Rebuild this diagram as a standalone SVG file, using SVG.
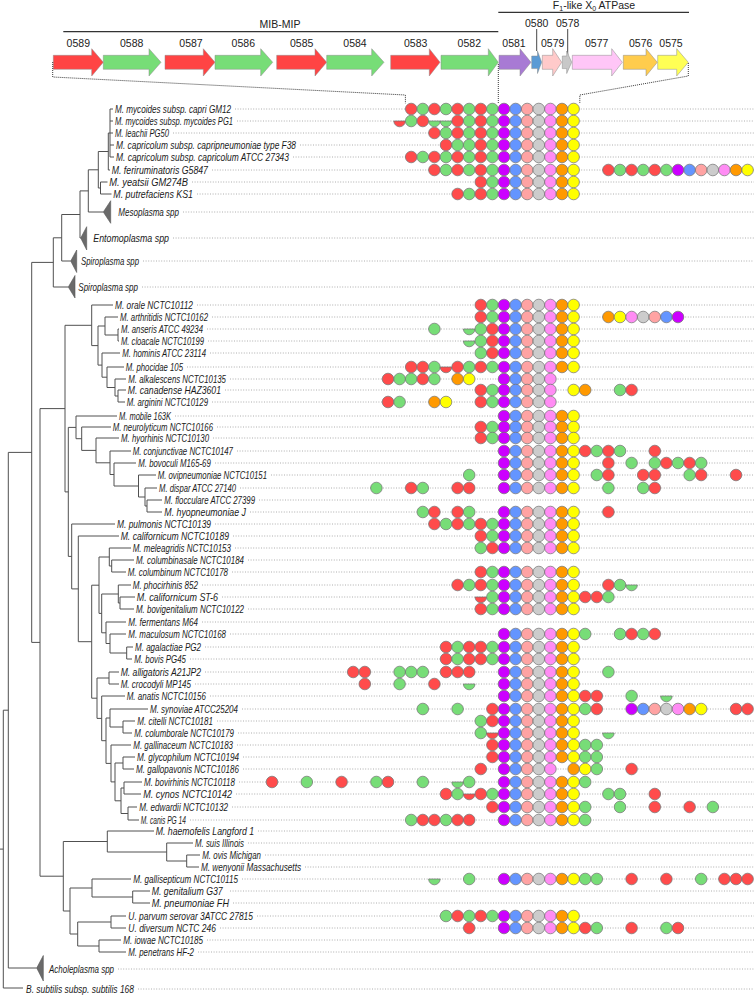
<svg xmlns="http://www.w3.org/2000/svg" xmlns:xlink="http://www.w3.org/1999/xlink" width="754" height="996" viewBox="0 0 754 996">
<style>
.lab{font-family:"Liberation Sans",Arial,sans-serif;font-style:italic;font-size:10.5px;fill:#1a1a1a}
.gl{font-family:"Liberation Sans",Arial,sans-serif;font-size:10.5px;fill:#222;text-anchor:middle}
.dot{stroke:#9a9a9a;stroke-width:0.8;stroke-dasharray:1 1.6;fill:none}
.zd{stroke:#222;stroke-width:0.9;stroke-dasharray:1 1;fill:none}
.tree{stroke:#505050;stroke-width:1;fill:none}
.tri{fill:#6a6a6a;stroke:#555;stroke-width:0.6}
.ar{stroke:#8a8a8a;stroke-width:0.5}
.bar{stroke:#333;stroke-width:1.3;fill:none}
</style>
<defs>
<circle id="cr" r="5.8" fill="#ff4b4b" stroke="#707070" stroke-width="0.7"/>
<circle id="cg" r="5.8" fill="#77dd77" stroke="#707070" stroke-width="0.7"/>
<circle id="cp" r="5.8" fill="#cc00ff" stroke="#707070" stroke-width="0.7"/>
<circle id="cb" r="5.8" fill="#6495ff" stroke="#707070" stroke-width="0.7"/>
<circle id="cs" r="5.8" fill="#ffa3a3" stroke="#707070" stroke-width="0.7"/>
<circle id="ca" r="5.8" fill="#cccccc" stroke="#707070" stroke-width="0.7"/>
<circle id="cv" r="5.8" fill="#ff8cf4" stroke="#707070" stroke-width="0.7"/>
<circle id="co" r="5.8" fill="#ff9900" stroke="#707070" stroke-width="0.7"/>
<circle id="cy" r="5.8" fill="#ffff00" stroke="#707070" stroke-width="0.7"/>
<path id="hr" d="M-5.8 0A5.8 5.8 0 0 0 5.8 0Z" fill="#ff4b4b" stroke="#707070" stroke-width="0.7"/>
<path id="hg" d="M-5.8 0A5.8 5.8 0 0 0 5.8 0Z" fill="#77dd77" stroke="#707070" stroke-width="0.7"/>
<g id="core5"><use href="#cp" x="504"/><use href="#cb" x="515.6"/><use href="#cs" x="527.2"/><use href="#ca" x="538.8"/><use href="#cv" x="550.4"/></g>
<g id="core"><use href="#core5"/><use href="#co" x="562"/><use href="#cy" x="573.6"/></g>
</defs>
<rect width="754" height="996" fill="#fff"/>

<g id="gene-map">
<text class="gl" x="594" y="9">F<tspan font-size="7" dy="2">1</tspan><tspan dy="-2">-like X</tspan><tspan font-size="7" dy="2">0</tspan><tspan dy="-2"> ATPase</tspan></text>
<path class="bar" d="M498.3 12.3H689"/>
<text class="gl" x="280" y="28">MIB-MIP</text>
<path class="bar" d="M63.3 31.7H498.3"/>
<text class="gl" x="536.7" y="26.5">0580</text>
<text class="gl" x="567.7" y="26.5">0578</text>
<path d="M536.7 29V51M567.7 29V55" stroke="#333" stroke-width="0.9"/>
<text class="gl" x="78.3" y="47">0589</text>
<text class="gl" x="131.7" y="47">0588</text>
<text class="gl" x="191" y="47">0587</text>
<text class="gl" x="243.3" y="47">0586</text>
<text class="gl" x="301.7" y="47">0585</text>
<text class="gl" x="355" y="47">0584</text>
<text class="gl" x="415.7" y="47">0583</text>
<text class="gl" x="469.3" y="47">0582</text>
<text class="gl" x="514" y="47">0581</text>
<text class="gl" x="552.7" y="47">0579</text>
<text class="gl" x="596.7" y="47">0577</text>
<text class="gl" x="640.7" y="47">0576</text>
<text class="gl" x="671" y="47">0575</text>
<polygon class="ar" fill="#ff4444" points="53.3,55.3 91.7,55.3 91.7,48.7 103.3,62.3 91.7,76 91.7,69.3 53.3,69.3"/>
<polygon class="ar" fill="#77dd77" points="103.3,55.3 149,55.3 149,48.7 161,62.3 149,76 149,69.3 103.3,69.3"/>
<polygon class="ar" fill="#ff4444" points="165,55.3 203.3,55.3 203.3,48.7 215,62.3 203.3,76 203.3,69.3 165,69.3"/>
<polygon class="ar" fill="#77dd77" points="215,55.3 260.7,55.3 260.7,48.7 272.7,62.3 260.7,76 260.7,69.3 215,69.3"/>
<polygon class="ar" fill="#ff4444" points="276.7,55.3 315,55.3 315,48.7 326.7,62.3 315,76 315,69.3 276.7,69.3"/>
<polygon class="ar" fill="#77dd77" points="326.7,55.3 371.7,55.3 371.7,48.7 384,62.3 371.7,76 371.7,69.3 326.7,69.3"/>
<polygon class="ar" fill="#ff4444" points="390.7,55.3 429.3,55.3 429.3,48.7 440,62.3 429.3,76 429.3,69.3 390.7,69.3"/>
<polygon class="ar" fill="#77dd77" points="441,55.3 488.3,55.3 488.3,48.7 498.3,62.3 488.3,76 488.3,69.3 441,69.3"/>
<polygon class="ar" fill="#a87ad4" points="499,55.3 520,55.3 520,48.7 531,62.3 520,76 520,69.3 499,69.3"/>
<polygon class="ar" fill="#5b9bd5" points="531.7,56 537.5,56 537.5,51 541.7,62.3 537.5,73.5 537.5,68.6 531.7,68.6"/>
<polygon class="ar" fill="#ffcaca" points="542.3,55.3 552.7,55.3 552.7,48.7 561.7,62.3 552.7,76 552.7,69.3 542.3,69.3"/>
<polygon class="ar" fill="#c8c8c8" points="562.3,56 566.7,56 566.7,51 571.7,62.3 566.7,73.5 566.7,68.6 562.3,68.6"/>
<polygon class="ar" fill="#ffc6f7" points="572.3,55.3 611.7,55.3 611.7,48.7 622.3,62.3 611.7,76 611.7,69.3 572.3,69.3"/>
<polygon class="ar" fill="#ffcc4d" points="623.3,55.3 646,55.3 646,48.7 657.3,62.3 646,76 646,69.3 623.3,69.3"/>
<polygon class="ar" fill="#ffff55" points="657.7,55.3 676.7,55.3 676.7,48.7 688.3,62.3 676.7,76 676.7,69.3 657.7,69.3"/>
<path class="zd" d="M52.7 62V77L405.4 95V103.3M498.3 64V103.3M688.3 63V76L579.8 95V103.3"/>
</g>

<g id="row-lines">
<path class="dot" d="M235 109H754M237 121H754M173 133H754M300 145H754M293 157H754M212 170H754M192 182H754M197 194H754M183 212H754M173 238H754M143 261H754M142 287H754M197 305H754M212 317H754M207 329H754M208 341H754M210 353H754M187 367H754M230 379H754M225 390H754M212 402H754M175 416H754M217 427H754M213 438H754M237 451H754M215 463H754M271 475H754M240 488H754M259 500H754M250 512H754M215 524H754M233 536H754M235 548H754M248 560H754M232 572H754M202 585H754M222 597H754M248 609H754M202 622H754M230 634H754M205 647H754M190 659H754M205 672H754M195 684H754M210 696H754M242 709H754M217 721H754M238 733H754M237 745H754M243 757H754M243 769H754M239 782H754M236 794H754M232 807H754M190 820H754M258 831H754M248 843H754M265 855H754M305 867H754M242 879H754M230 891H754M233 903H754M257 916H754M220 928H754M207 940H754M198 952H754M118 969H754M138 989H754"/>
</g>

<g id="connectors">
<path class="tree" d="M110 109V157M108.3 133V170M100.5 182V194M98.3 151.5V188M88.3 169.8V212M80 190.9V238M61.7 214.5V261M53.3 237.8V287M108.3 133H110M98.3 151.5H108.3M98.3 188H100.5M88.3 169.8H98.3M80 190.9H88.3M61.7 214.5H80M53.3 237.8H61.7M31.7 262.4H53.3M110 109H113M110 121H113M110 133H113M110 145H114M110 157H114M108.3 170H110M100.5 182H107.5M100.5 194H111.5M88.3 212H103.3M80 238H80.7M61.7 261H70.7M53.3 287H68.3
M118 329V341M105 317V335M118 390V402M115 379V396M107 367V387.5M102 353V377.2M98 326V365.1M91.7 305V345.6M105 335H118M98 326H105M115 396H118M107 387.5H115M102 377.2H107M98 365.1H102M91.7 345.6H98M65 325.3H91.7M91.7 305H113M105 317H118M118 329H119M118 341H119M102 353H120M107 367H124M115 379H126M118 390H126M118 402H125
M147 500V512M145 488V506M138.5 475V497M114 463V486M110 451V474.5M96 438V462.8M81.7 427V450.4M76 416V438.7M145 506H147M138.5 497H145M114 486H138.5M110 474.5H114M96 462.8H110M81.7 450.4H96M76 438.7H81.7M68.3 427.4H76M76 416H117M81.7 427H111M96 438H119M110 451H131M114 463H136M138.5 475H156M145 488H157M147 500H162M147 512H162
M111.7 560V572M109.3 548V566M120 597V609M118.3 585V603M126.7 647V659M110 634V653M106 622V643.5M101.7 594V632.8M99 557V613.4M109 672V684M123 721V733M110 709V727M123 757V769M124 782V794M128 807V820M121 788V813.5M115 763V800.8M111 745V781.9M106 718V763.4M101.7 696V740.7M97 678V718.4M91.7 585.2V698.2M78.3 536V641.7M71.7 524V588.9M68.3 427.4V556.4M65 325.3V491.9
M109.3 566H111.7M99 557H109.3M118.3 603H120M101.7 594H118.3M110 653H126.7M106 643.5H110M101.7 632.8H106M99 613.4H101.7M91.7 585.2H99M97 678H109M110 727H123M106 718H110M115 763H123M121 788H124M121 813.5H128M115 800.8H121M111 781.9H115M106 763.4H111M101.7 740.7H106M97 718.4H101.7M91.7 698.2H97M78.3 641.7H91.7M71.7 588.9H78.3M68.3 556.4H71.7M65 491.9H68.3M40 408.6H65
M71.7 524H115M78.3 536H119M109.3 548H131M111.7 560H134M111.7 572H126M118.3 585H131M120 597H135M120 609H134M106 622H126M110 634H126M126.7 647H133M126.7 659H132M109 672H119M109 684H119M101.7 696H125M110 709H148M123 721H135M123 733H132M111 745H131M123 757H135M123 769H134M124 782H142M124 794H141M128 807H137M128 820H139
M186.7 855V867M166.7 843V861M107.3 831V852M132.7 891V903M92 879V897M111 916V928M99 940V952M77.7 922V946M70 888V934M63.3 841.5V911M40 408.6V876.2M31.7 262.4V642.4M8.3 452.4V968M3.3 710.2V988
M166.7 861H186.7M107.3 852H166.7M63.3 841.5H107.3M92 897H132.7M70 888H92M77.7 922H111M77.7 946H99M70 934H77.7M63.3 911H70M40 876.2H63.3M31.7 642.4H40M8.3 452.4H31.7M3.3 710.2H8.3M0 849.1H3.3
M107.3 831H154M166.7 843H193M186.7 855H200M186.7 867H199M92 879H131M132.7 891H150M132.7 903H150M111 916H126M111 928H126M99 940H121M99 952H126M8.3 968H36.7M3.3 988H23"/>
</g>

<g id="t01"><text class="lab" x="115" y="112.6" textLength="116" lengthAdjust="spacingAndGlyphs">M. mycoides subsp. capri GM12</text><use href="#cr" x="411.2" y="109"/><use href="#cg" x="422.8" y="109"/><use href="#cr" x="434.4" y="109"/><use href="#cg" x="446" y="109"/><use href="#cr" x="457.6" y="109"/><use href="#cg" x="469.2" y="109"/><use href="#cr" x="480.8" y="109"/><use href="#cg" x="492.4" y="109"/><use href="#core" y="109"/></g>
<g id="t02"><text class="lab" x="115" y="124.6" textLength="118" lengthAdjust="spacingAndGlyphs">M. mycoides subsp. mycoides PG1</text><use href="#hr" x="399.6" y="121"/><use href="#cg" x="411.2" y="121"/><use href="#cr" x="422.8" y="121"/><use href="#hg" x="434.4" y="121"/><use href="#hg" x="446" y="121"/><use href="#cr" x="457.6" y="121"/><use href="#cg" x="469.2" y="121"/><use href="#cr" x="480.8" y="121"/><use href="#cg" x="492.4" y="121"/><use href="#core" y="121"/></g>
<g id="t03"><text class="lab" x="115" y="136.6" textLength="54" lengthAdjust="spacingAndGlyphs">M. leachii PG50</text><use href="#cr" x="434.4" y="133"/><use href="#cg" x="446" y="133"/><use href="#cr" x="457.6" y="133"/><use href="#cg" x="469.2" y="133"/><use href="#cr" x="480.8" y="133"/><use href="#cg" x="492.4" y="133"/><use href="#core" y="133"/></g>
<g id="t04"><text class="lab" x="116" y="148.6" textLength="180" lengthAdjust="spacingAndGlyphs">M. capricolum subsp. capripneumoniae type F38</text><use href="#cr" x="446" y="145"/><use href="#cg" x="457.6" y="145"/><use href="#cg" x="469.2" y="145"/><use href="#cr" x="480.8" y="145"/><use href="#cg" x="492.4" y="145"/><use href="#core" y="145"/></g>
<g id="t05"><text class="lab" x="116" y="160.6" textLength="173" lengthAdjust="spacingAndGlyphs">M. capricolum subsp. capricolum ATCC 27343</text><use href="#cr" x="411.2" y="157"/><use href="#cg" x="422.8" y="157"/><use href="#cr" x="434.4" y="157"/><use href="#cg" x="446" y="157"/><use href="#cr" x="457.6" y="157"/><use href="#cg" x="469.2" y="157"/><use href="#cr" x="480.8" y="157"/><use href="#cg" x="492.4" y="157"/><use href="#core" y="157"/></g>
<g id="t06"><text class="lab" x="111.7" y="173.6" textLength="96.3" lengthAdjust="spacingAndGlyphs">M. feriruminatoris G5847</text><use href="#cr" x="434.4" y="170"/><use href="#cg" x="446" y="170"/><use href="#cr" x="457.6" y="170"/><use href="#cg" x="469.2" y="170"/><use href="#cr" x="480.8" y="170"/><use href="#cg" x="492.4" y="170"/><use href="#core" y="170"/><use href="#cr" x="608.4" y="170"/><use href="#cg" x="620" y="170"/><use href="#cr" x="631.6" y="170"/><use href="#cg" x="643.2" y="170"/><use href="#cr" x="654.8" y="170"/><use href="#cg" x="666.4" y="170"/><use href="#core" x="174" y="170"/></g>
<g id="t07"><text class="lab" x="109.3" y="185.6" textLength="78.7" lengthAdjust="spacingAndGlyphs">M. yeatsii GM274B</text><use href="#cr" x="480.8" y="182"/><use href="#cg" x="492.4" y="182"/><use href="#core" y="182"/></g>
<g id="t08"><text class="lab" x="113.3" y="197.6" textLength="79.7" lengthAdjust="spacingAndGlyphs">M. putrefaciens KS1</text><use href="#cr" x="457.6" y="194"/><use href="#cg" x="469.2" y="194"/><use href="#cr" x="480.8" y="194"/><use href="#cg" x="492.4" y="194"/><use href="#core" y="194"/></g>
<g id="t09"><polygon class="tri" points="103.3,212 110.7,200.7 110.7,223.3"/><text class="lab" x="118.3" y="215.6" textLength="60.7" lengthAdjust="spacingAndGlyphs">Mesoplasma spp</text></g>
<g id="t10"><polygon class="tri" points="80.7,238 86.7,226.7 86.7,250"/><text class="lab" x="93.3" y="241.6" textLength="75.7" lengthAdjust="spacingAndGlyphs">Entomoplasma spp</text></g>
<g id="t11"><polygon class="tri" points="70.7,261 76.7,250 76.7,272.5"/><text class="lab" x="81" y="264.6" textLength="58" lengthAdjust="spacingAndGlyphs">Spiroplasma spp</text></g>
<g id="t12"><polygon class="tri" points="68.3,287 75,275.5 75,298"/><text class="lab" x="78.3" y="290.6" textLength="59.7" lengthAdjust="spacingAndGlyphs">Spiroplasma spp</text></g>
<g id="t13"><text class="lab" x="115" y="308.6" textLength="78" lengthAdjust="spacingAndGlyphs">M. orale NCTC10112</text><use href="#cr" x="480.8" y="305"/><use href="#cg" x="492.4" y="305"/><use href="#core" y="305"/></g>
<g id="t14"><text class="lab" x="120" y="320.6" textLength="88" lengthAdjust="spacingAndGlyphs">M. arthritidis NCTC10162</text><use href="#cr" x="480.8" y="317"/><use href="#cg" x="492.4" y="317"/><use href="#core" y="317"/><use href="#co" x="608.4" y="317"/><use href="#cy" x="620" y="317"/><use href="#cv" x="631.6" y="317"/><use href="#ca" x="643.2" y="317"/><use href="#cs" x="654.8" y="317"/><use href="#cb" x="666.4" y="317"/><use href="#cp" x="678" y="317"/></g>
<g id="t15"><text class="lab" x="121" y="332.6" textLength="82" lengthAdjust="spacingAndGlyphs">M. anseris ATCC 49234</text><use href="#cg" x="434.4" y="329"/><use href="#hg" x="469.2" y="329"/><use href="#cg" x="480.8" y="329"/><use href="#cr" x="492.4" y="329"/><use href="#core" y="329"/></g>
<g id="t16"><text class="lab" x="121" y="344.6" textLength="83" lengthAdjust="spacingAndGlyphs">M. cloacale NCTC10199</text><use href="#hg" x="469.2" y="341"/><use href="#cg" x="480.8" y="341"/><use href="#cr" x="492.4" y="341"/><use href="#core" y="341"/></g>
<g id="t17"><text class="lab" x="122.3" y="356.6" textLength="83.7" lengthAdjust="spacingAndGlyphs">M. hominis ATCC 23114</text><use href="#cg" x="480.8" y="353"/><use href="#cr" x="492.4" y="353"/><use href="#core" y="353"/></g>
<g id="t18"><text class="lab" x="125.7" y="370.6" textLength="57.3" lengthAdjust="spacingAndGlyphs">M. phocidae 105</text><use href="#cr" x="411.2" y="367"/><use href="#cr" x="422.8" y="367"/><use href="#cg" x="434.4" y="367"/><use href="#hr" x="446" y="367"/><use href="#cr" x="457.6" y="367"/><use href="#cg" x="469.2" y="367"/><use href="#cr" x="480.8" y="367"/><use href="#cg" x="492.4" y="367"/><use href="#core" y="367"/></g>
<g id="t19"><text class="lab" x="128.3" y="382.6" textLength="97.7" lengthAdjust="spacingAndGlyphs">M. alkalescens NCTC10135</text><use href="#cr" x="388" y="379"/><use href="#cg" x="399.6" y="379"/><use href="#cg" x="411.2" y="379"/><use href="#cr" x="422.8" y="379"/><use href="#cg" x="434.4" y="379"/><use href="#co" x="457.6" y="379"/><use href="#cy" x="469.2" y="379"/><use href="#core5" y="379"/></g>
<g id="t20"><text class="lab" x="127.7" y="393.6" textLength="93.3" lengthAdjust="spacingAndGlyphs">M. canadense HAZ3601</text><use href="#cr" x="480.8" y="390"/><use href="#cg" x="492.4" y="390"/><use href="#core5" y="390"/><use href="#cy" x="573.6" y="390"/><use href="#co" x="585.2" y="390"/><use href="#cg" x="620" y="390"/><use href="#cr" x="631.6" y="390"/></g>
<g id="t21"><text class="lab" x="126.7" y="405.6" textLength="81.3" lengthAdjust="spacingAndGlyphs">M. arginini NCTC10129</text><use href="#cr" x="388" y="402"/><use href="#cg" x="399.6" y="402"/><use href="#co" x="434.4" y="402"/><use href="#cy" x="446" y="402"/><use href="#cr" x="480.8" y="402"/><use href="#cg" x="492.4" y="402"/><use href="#core5" y="402"/></g>
<g id="t22"><text class="lab" x="119" y="419.6" textLength="52" lengthAdjust="spacingAndGlyphs">M. mobile 163K</text><use href="#core" y="416"/></g>
<g id="t23"><text class="lab" x="112.7" y="430.6" textLength="100.3" lengthAdjust="spacingAndGlyphs">M. neurolyticum NCTC10166</text><use href="#cr" x="480.8" y="427"/><use href="#cg" x="492.4" y="427"/><use href="#core" y="427"/></g>
<g id="t24"><text class="lab" x="121" y="441.6" textLength="88" lengthAdjust="spacingAndGlyphs">M. hyorhinis NCTC10130</text><use href="#cr" x="480.8" y="438"/><use href="#cg" x="492.4" y="438"/><use href="#core" y="438"/></g>
<g id="t25"><text class="lab" x="132.7" y="454.6" textLength="100.3" lengthAdjust="spacingAndGlyphs">M. conjunctivae NCTC10147</text><use href="#core" y="451"/><use href="#cr" x="585.2" y="451"/><use href="#cg" x="596.8" y="451"/><use href="#cr" x="608.4" y="451"/><use href="#cg" x="620" y="451"/><use href="#cr" x="654.8" y="451"/></g>
<g id="t26"><text class="lab" x="138.3" y="466.6" textLength="72.5" lengthAdjust="spacingAndGlyphs">M. bovoculi M165-69</text><use href="#core" y="463"/><use href="#cr" x="608.4" y="463"/><use href="#cg" x="631.6" y="463"/><use href="#cg" x="654.8" y="463"/><use href="#cr" x="666.4" y="463"/><use href="#cg" x="678" y="463"/><use href="#cr" x="689.6" y="463"/><use href="#cg" x="701.2" y="463"/></g>
<g id="t27"><text class="lab" x="157.7" y="478.6" textLength="109.3" lengthAdjust="spacingAndGlyphs">M. ovipneumoniae NCTC10151</text><use href="#cg" x="469.2" y="475"/><use href="#core" y="475"/><use href="#cg" x="596.8" y="475"/><use href="#cr" x="608.4" y="475"/><use href="#cr" x="643.2" y="475"/><use href="#cr" x="654.8" y="475"/><use href="#cg" x="689.6" y="475"/><use href="#cr" x="701.2" y="475"/><use href="#cr" x="736" y="475"/></g>
<g id="t28"><text class="lab" x="159" y="491.6" textLength="77" lengthAdjust="spacingAndGlyphs">M. dispar ATCC 27140</text><use href="#cg" x="376.4" y="488"/><use href="#cr" x="411.2" y="488"/><use href="#cg" x="422.8" y="488"/><use href="#cr" x="457.6" y="488"/><use href="#cr" x="469.2" y="488"/><use href="#core" y="488"/><use href="#cg" x="608.4" y="488"/><use href="#cg" x="643.2" y="488"/><use href="#cr" x="654.8" y="488"/></g>
<g id="t29"><text class="lab" x="164.3" y="503.6" textLength="90.7" lengthAdjust="spacingAndGlyphs">M. flocculare ATCC 27399</text></g>
<g id="t30"><text class="lab" x="164.3" y="515.6" textLength="81.7" lengthAdjust="spacingAndGlyphs">M. hyopneumoniae J</text><use href="#cg" x="422.8" y="512"/><use href="#cr" x="434.4" y="512"/><use href="#cr" x="457.6" y="512"/><use href="#cg" x="469.2" y="512"/><use href="#core" y="512"/><use href="#cr" x="608.4" y="512"/></g>
<g id="t31"><text class="lab" x="117" y="527.6" textLength="94" lengthAdjust="spacingAndGlyphs">M. pulmonis NCTC10139</text><use href="#cr" x="434.4" y="524"/><use href="#cg" x="446" y="524"/><use href="#cr" x="457.6" y="524"/><use href="#cg" x="469.2" y="524"/><use href="#cr" x="480.8" y="524"/><use href="#cg" x="492.4" y="524"/><use href="#core" y="524"/></g>
<g id="t32"><text class="lab" x="120.7" y="539.6" textLength="108.3" lengthAdjust="spacingAndGlyphs">M. californicum NCTC10189</text><use href="#cr" x="480.8" y="536"/><use href="#cg" x="492.4" y="536"/><use href="#core" y="536"/></g>
<g id="t33"><text class="lab" x="132.7" y="551.6" textLength="98.3" lengthAdjust="spacingAndGlyphs">M. meleagridis NCTC10153</text><use href="#cg" x="480.8" y="548"/><use href="#cr" x="492.4" y="548"/><use href="#core" y="548"/></g>
<g id="t34"><text class="lab" x="136" y="563.6" textLength="108" lengthAdjust="spacingAndGlyphs">M. columbinasale NCTC10184</text></g>
<g id="t35"><text class="lab" x="127.7" y="575.6" textLength="100.3" lengthAdjust="spacingAndGlyphs">M. columbinum NCTC10178</text><use href="#cr" x="480.8" y="572"/><use href="#cg" x="492.4" y="572"/><use href="#core" y="572"/></g>
<g id="t36"><text class="lab" x="132.7" y="588.6" textLength="65.3" lengthAdjust="spacingAndGlyphs">M. phocirhinis 852</text><use href="#cr" x="457.6" y="585"/><use href="#cg" x="469.2" y="585"/><use href="#cr" x="480.8" y="585"/><use href="#cg" x="492.4" y="585"/><use href="#core" y="585"/><use href="#cr" x="608.4" y="585"/><use href="#cg" x="620" y="585"/><use href="#hg" x="631.6" y="585"/></g>
<g id="t37"><text class="lab" x="136.7" y="600.6" textLength="81.3" lengthAdjust="spacingAndGlyphs">M. californicum ST-6</text><use href="#hr" x="480.8" y="597"/><use href="#cg" x="492.4" y="597"/><use href="#core" y="597"/><use href="#cr" x="585.2" y="597"/><use href="#cr" x="596.8" y="597"/><use href="#cg" x="608.4" y="597"/></g>
<g id="t38"><text class="lab" x="136" y="612.6" textLength="108" lengthAdjust="spacingAndGlyphs">M. bovigenitalium NCTC10122</text><use href="#cr" x="480.8" y="609"/><use href="#cg" x="492.4" y="609"/><use href="#core" y="609"/></g>
<g id="t39"><text class="lab" x="128.3" y="625.6" textLength="69.7" lengthAdjust="spacingAndGlyphs">M. fermentans M64</text></g>
<g id="t40"><text class="lab" x="128.3" y="637.6" textLength="97.7" lengthAdjust="spacingAndGlyphs">M. maculosum NCTC10168</text><use href="#core" y="634"/><use href="#cg" x="585.2" y="634"/><use href="#cg" x="620" y="634"/><use href="#cr" x="631.6" y="634"/><use href="#cg" x="643.2" y="634"/><use href="#cr" x="654.8" y="634"/></g>
<g id="t41"><text class="lab" x="135" y="650.6" textLength="66" lengthAdjust="spacingAndGlyphs">M. agalactiae PG2</text><use href="#cr" x="446" y="647"/><use href="#cg" x="457.6" y="647"/><use href="#cr" x="469.2" y="647"/><use href="#cr" x="480.8" y="647"/><use href="#cg" x="492.4" y="647"/><use href="#core" y="647"/></g>
<g id="t42"><text class="lab" x="134.3" y="662.6" textLength="51.7" lengthAdjust="spacingAndGlyphs">M. bovis PG45</text><use href="#cr" x="446" y="659"/><use href="#cg" x="457.6" y="659"/><use href="#cr" x="469.2" y="659"/><use href="#cr" x="480.8" y="659"/><use href="#cg" x="492.4" y="659"/><use href="#core" y="659"/></g>
<g id="t43"><text class="lab" x="120.7" y="675.6" textLength="80.3" lengthAdjust="spacingAndGlyphs">M. alligatoris A21JP2</text><use href="#cr" x="353.2" y="672"/><use href="#cr" x="364.8" y="672"/><use href="#cg" x="399.6" y="672"/><use href="#cg" x="411.2" y="672"/><use href="#cg" x="422.8" y="672"/><use href="#cr" x="446" y="672"/><use href="#cr" x="457.6" y="672"/><use href="#cr" x="469.2" y="672"/><use href="#core" y="672"/><use href="#cg" x="608.4" y="672"/></g>
<g id="t44"><text class="lab" x="120.7" y="687.6" textLength="70.3" lengthAdjust="spacingAndGlyphs">M. crocodyli MP145</text><use href="#cr" x="364.8" y="684"/><use href="#cg" x="399.6" y="684"/><use href="#cr" x="434.4" y="684"/><use href="#hg" x="469.2" y="684"/><use href="#core" y="684"/></g>
<g id="t45"><text class="lab" x="126.7" y="699.6" textLength="79.3" lengthAdjust="spacingAndGlyphs">M. anatis NCTC10156</text><use href="#core" y="696"/><use href="#cr" x="585.2" y="696"/><use href="#cr" x="596.8" y="696"/><use href="#cg" x="631.6" y="696"/><use href="#hg" x="666.4" y="696"/></g>
<g id="t46"><text class="lab" x="150" y="712.6" textLength="88" lengthAdjust="spacingAndGlyphs">M. synoviae ATCC25204</text><use href="#cg" x="422.8" y="709"/><use href="#cg" x="457.6" y="709"/><use href="#cr" x="492.4" y="709"/><use href="#core" y="709"/><use href="#cg" x="585.2" y="709"/><use href="#cr" x="596.8" y="709"/><use href="#core" x="127.6" y="709"/><use href="#cr" x="736" y="709"/><use href="#cr" x="747.6" y="709"/></g>
<g id="t47"><text class="lab" x="137.3" y="724.6" textLength="75.7" lengthAdjust="spacingAndGlyphs">M. citelli NCTC10181</text><use href="#cg" x="480.8" y="721"/><use href="#cr" x="492.4" y="721"/><use href="#core" y="721"/></g>
<g id="t48"><text class="lab" x="134.3" y="736.6" textLength="99.7" lengthAdjust="spacingAndGlyphs">M. columborale NCTC10179</text><use href="#cg" x="480.8" y="733"/><use href="#hr" x="492.4" y="733"/><use href="#core" y="733"/><use href="#hg" x="608.4" y="733"/></g>
<g id="t49"><text class="lab" x="133.3" y="748.6" textLength="99.7" lengthAdjust="spacingAndGlyphs">M. gallinaceum NCTC10183</text><use href="#cr" x="492.4" y="745"/><use href="#core" y="745"/><use href="#cg" x="585.2" y="745"/><use href="#cg" x="596.8" y="745"/></g>
<g id="t50"><text class="lab" x="137" y="760.6" textLength="102" lengthAdjust="spacingAndGlyphs">M. glycophilum NCTC10194</text><use href="#cr" x="492.4" y="757"/><use href="#core" y="757"/><use href="#cg" x="585.2" y="757"/><use href="#cg" x="596.8" y="757"/></g>
<g id="t51"><text class="lab" x="136" y="772.6" textLength="103" lengthAdjust="spacingAndGlyphs">M. gallopavonis NCTC10186</text><use href="#cr" x="480.8" y="769"/><use href="#core5" y="769"/><use href="#co" x="573.6" y="769"/><use href="#cy" x="585.2" y="769"/><use href="#cg" x="596.8" y="769"/><use href="#cr" x="631.6" y="769"/></g>
<g id="t52"><text class="lab" x="144" y="785.6" textLength="91" lengthAdjust="spacingAndGlyphs">M. bovirhinis NCTC10118</text><use href="#cr" x="272" y="782"/><use href="#cg" x="306.8" y="782"/><use href="#cr" x="341.6" y="782"/><use href="#cg" x="376.4" y="782"/><use href="#cr" x="388" y="782"/><use href="#cg" x="422.8" y="782"/><use href="#hg" x="457.6" y="782"/><use href="#cg" x="469.2" y="782"/><use href="#core" y="782"/><use href="#cg" x="585.2" y="782"/></g>
<g id="t53"><text class="lab" x="143.3" y="797.6" textLength="88.7" lengthAdjust="spacingAndGlyphs">M. cynos NCTC10142</text><use href="#cr" x="446" y="794"/><use href="#cg" x="457.6" y="794"/><use href="#hr" x="469.2" y="794"/><use href="#cr" x="480.8" y="794"/><use href="#cg" x="492.4" y="794"/><use href="#core" y="794"/><use href="#cg" x="608.4" y="794"/><use href="#cg" x="620" y="794"/><use href="#cr" x="654.8" y="794"/></g>
<g id="t54"><text class="lab" x="139.3" y="810.6" textLength="88.7" lengthAdjust="spacingAndGlyphs">M. edwardii NCTC10132</text><use href="#cr" x="492.4" y="807"/><use href="#core" y="807"/><use href="#cg" x="585.2" y="807"/><use href="#cg" x="620" y="807"/><use href="#cr" x="654.8" y="807"/><use href="#cr" x="689.6" y="807"/><use href="#cg" x="712.8" y="807"/></g>
<g id="t55"><text class="lab" x="140.7" y="823.6" textLength="45.3" lengthAdjust="spacingAndGlyphs">M. canis PG 14</text><use href="#cg" x="411.2" y="820"/><use href="#cr" x="422.8" y="820"/><use href="#cr" x="434.4" y="820"/><use href="#cg" x="446" y="820"/><use href="#cr" x="457.6" y="820"/><use href="#cr" x="469.2" y="820"/><use href="#core" y="820"/><use href="#cg" x="585.2" y="820"/></g>
<g id="t56"><text class="lab" x="155.7" y="834.6" textLength="98.3" lengthAdjust="spacingAndGlyphs">M. haemofelis Langford 1</text></g>
<g id="t57"><text class="lab" x="195" y="846.6" textLength="49" lengthAdjust="spacingAndGlyphs">M. suis Illinois</text></g>
<g id="t58"><text class="lab" x="202.3" y="858.6" textLength="58.7" lengthAdjust="spacingAndGlyphs">M. ovis Michigan</text></g>
<g id="t59"><text class="lab" x="201" y="870.6" textLength="100" lengthAdjust="spacingAndGlyphs">M. wenyonii Massachusetts</text></g>
<g id="t60"><text class="lab" x="133.3" y="882.6" textLength="104.7" lengthAdjust="spacingAndGlyphs">M. gallisepticum NCTC10115</text><use href="#hg" x="434.4" y="879"/><use href="#cg" x="469.2" y="879"/><use href="#core" y="879"/><use href="#cg" x="585.2" y="879"/><use href="#cg" x="596.8" y="879"/><use href="#cr" x="631.6" y="879"/><use href="#cr" x="666.4" y="879"/><use href="#cg" x="701.2" y="879"/><use href="#cr" x="724.4" y="879"/><use href="#cr" x="736" y="879"/><use href="#cr" x="747.6" y="879"/></g>
<g id="t61"><text class="lab" x="151.7" y="894.6" textLength="71" lengthAdjust="spacingAndGlyphs">M. genitalium G37</text></g>
<g id="t62"><text class="lab" x="151.7" y="906.6" textLength="77.3" lengthAdjust="spacingAndGlyphs">M. pneumoniae FH</text></g>
<g id="t63"><text class="lab" x="128.3" y="919.6" textLength="124.7" lengthAdjust="spacingAndGlyphs">U. parvum serovar 3ATCC 27815</text><use href="#cg" x="446" y="916"/><use href="#cr" x="457.6" y="916"/><use href="#cg" x="469.2" y="916"/><use href="#cr" x="480.8" y="916"/><use href="#cg" x="492.4" y="916"/><use href="#core" y="916"/></g>
<g id="t64"><text class="lab" x="128.3" y="931.6" textLength="87.7" lengthAdjust="spacingAndGlyphs">U. diversum NCTC 246</text><use href="#cr" x="469.2" y="928"/><use href="#core" y="928"/><use href="#cr" x="585.2" y="928"/><use href="#cg" x="596.8" y="928"/><use href="#cr" x="631.6" y="928"/><use href="#cg" x="666.4" y="928"/><use href="#cr" x="678" y="928"/></g>
<g id="t65"><text class="lab" x="123.3" y="943.6" textLength="79.7" lengthAdjust="spacingAndGlyphs">M. iowae NCTC10185</text></g>
<g id="t66"><text class="lab" x="128.3" y="955.6" textLength="65.7" lengthAdjust="spacingAndGlyphs">M. penetrans HF-2</text></g>
<g id="t67"><polygon class="tri" points="36.7,968 43.3,955.5 43.3,981"/><text class="lab" x="49" y="972.6" textLength="65" lengthAdjust="spacingAndGlyphs">Acholeplasma spp</text></g>
<g id="t68"><text class="lab" x="26" y="992.6" textLength="108" lengthAdjust="spacingAndGlyphs">B. subtilis subsp. subtilis 168</text></g>
</svg>
